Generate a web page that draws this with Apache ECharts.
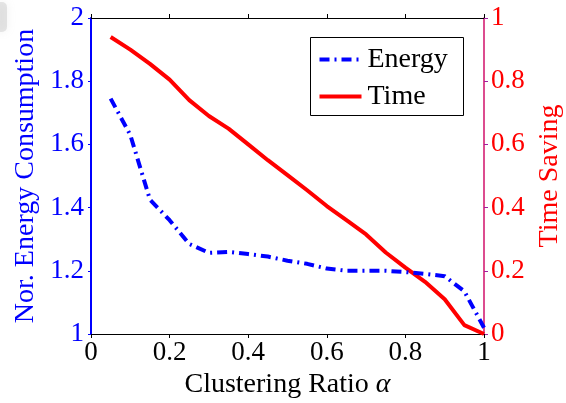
<!DOCTYPE html>
<html>
<head>
<meta charset="utf-8">
<script src="https://cdn.jsdelivr.net/npm/echarts@6/dist/echarts.min.js"></script>
<style>
  html, body { margin: 0; padding: 0; background: #fff; }
  #chart { width: 566px; height: 403px; }
</style>
</head>
<body>
<div id="chart"></div>
<script>
// Clustering ratio samples
const alphas = [0.05, 0.1, 0.15, 0.2, 0.25, 0.3, 0.35, 0.4, 0.45, 0.5,
                0.55, 0.6, 0.65, 0.7, 0.75, 0.8, 0.85, 0.9, 0.95, 1.0];
// Normalized energy consumption (left axis)
const energy = [1.745, 1.63, 1.425, 1.36, 1.285, 1.257, 1.26, 1.253, 1.245, 1.232,
                1.222, 1.207, 1.2, 1.2, 1.2, 1.196, 1.19, 1.183, 1.135, 1.02];
// Time saving (right axis)
const timeSaving = [0.94, 0.9, 0.855, 0.805, 0.74, 0.69, 0.65, 0.6, 0.55, 0.503,
                    0.455, 0.405, 0.36, 0.315, 0.258, 0.21, 0.165, 0.11, 0.028, 0.0];
const seriesNames = ['Energy', 'Time'];

const FONT = '"Liberation Serif", "DejaVu Serif", serif';
const BLUE = '#0000ff';
const RED = '#ff0000';
const ENERGY_DASH = [10, 5, 2, 5];

const chart = echarts.init(document.getElementById('chart'), null, { renderer: 'canvas' });

const fmt = v => (Math.abs(v - Math.round(v)) < 1e-9 ? String(Math.round(v)) : String(+v.toFixed(1)));

// Legend box drawn as graphic elements (line samples + labels)
const legendGraphic = {
  type: 'group',
  left: 310,
  top: 37,
  children: [
    { type: 'rect', shape: { x: 0, y: 0, width: 153, height: 78 },
      style: { fill: '#fff', stroke: '#000', lineWidth: 1 } },
    { type: 'line', shape: { x1: 9, y1: 22, x2: 51, y2: 22 },
      style: { stroke: BLUE, lineWidth: 4, lineDash: ENERGY_DASH } },
    { type: 'text', x: 57, y: 22,
      style: { text: seriesNames[0], font: '28px ' + FONT, fill: '#000', verticalAlign: 'middle' } },
    { type: 'line', shape: { x1: 9, y1: 59, x2: 51, y2: 59 },
      style: { stroke: RED, lineWidth: 4 } },
    { type: 'text', x: 57, y: 59,
      style: { text: seriesNames[1], font: '28px ' + FONT, fill: '#000', verticalAlign: 'middle' } }
  ]
};

chart.setOption({
  animation: false,
  backgroundColor: '#fff',
  grid: { left: 91, right: 82, top: 18, bottom: 69, containLabel: false, outerBoundsMode: 'none' },
  graphic: [
    { type: 'rect', left: -4, top: 2, shape: { x: 0, y: 0, width: 11, height: 30, r: 5 },
      style: { fill: 'rgba(150,150,150,0.22)', shadowBlur: 10, shadowColor: 'rgba(150,150,150,0.6)' },
      z: -1 },
    legendGraphic
  ],
  xAxis: [
    {
      type: 'value',
      min: 0, max: 1, interval: 0.2,
      position: 'bottom',
      name: 'Clustering Ratio {i|α}',
      nameLocation: 'middle',
      nameGap: 34,
      nameTextStyle: {
        fontFamily: FONT, fontSize: 28, color: '#000',
        rich: { i: { fontFamily: FONT, fontStyle: 'italic', fontSize: 28, color: '#000' } }
      },
      axisLine: { onZero: false, lineStyle: { color: '#000', width: 1 } },
      axisTick: { show: true, inside: false, length: 4, lineStyle: { color: '#000' } },
      axisLabel: { fontFamily: FONT, fontSize: 27, color: '#000', margin: 5, formatter: fmt },
      splitLine: { show: false }
    },
    {
      type: 'value',
      min: 0, max: 1, interval: 0.2,
      position: 'top',
      axisLine: { onZero: false, lineStyle: { color: '#000', width: 1 } },
      axisTick: { show: true, inside: false, length: 4, lineStyle: { color: '#000' } },
      axisLabel: { show: false },
      splitLine: { show: false }
    }
  ],
  yAxis: [
    {
      type: 'value',
      min: 1, max: 2, interval: 0.2,
      position: 'left',
      name: 'Nor. Energy Consumption',
      nameLocation: 'middle',
      nameGap: 50,
      nameRotate: 90,
      nameTextStyle: { fontFamily: FONT, fontSize: 28, color: BLUE },
      axisLine: { show: true, onZero: false, lineStyle: { color: BLUE, width: 2 } },
      axisTick: { show: true, inside: false, length: 3, lineStyle: { color: BLUE } },
      axisLabel: { fontFamily: FONT, fontSize: 27, color: BLUE, margin: 7, formatter: fmt },
      splitLine: { show: false }
    },
    {
      type: 'value',
      min: 0, max: 1, interval: 0.2,
      position: 'right',
      name: 'Time Saving',
      nameLocation: 'middle',
      nameGap: 46,
      nameRotate: 90,
      nameTextStyle: { fontFamily: FONT, fontSize: 28, color: RED },
      axisLine: { show: true, onZero: false, lineStyle: { color: '#d0106a', width: 1.5 } },
      axisTick: { show: true, inside: false, length: 4, lineStyle: { color: '#a020a0' } },
      axisLabel: { fontFamily: FONT, fontSize: 27, color: RED, margin: 7, formatter: fmt },
      splitLine: { show: false }
    }
  ],
  series: [
    {
      name: seriesNames[0],
      type: 'line',
      xAxisIndex: 0,
      yAxisIndex: 0,
      data: alphas.map((a, i) => [a, energy[i]]),
      showSymbol: false,
      symbol: 'none',
      color: BLUE,
      lineStyle: { color: BLUE, width: 4, type: ENERGY_DASH, cap: 'butt' },
      z: 3
    },
    {
      name: seriesNames[1],
      type: 'line',
      xAxisIndex: 0,
      yAxisIndex: 1,
      data: alphas.map((a, i) => [a, timeSaving[i]]),
      showSymbol: false,
      symbol: 'none',
      color: RED,
      lineStyle: { color: RED, width: 4 },
      z: 2
    }
  ]
});
</script>
</body>
</html>
